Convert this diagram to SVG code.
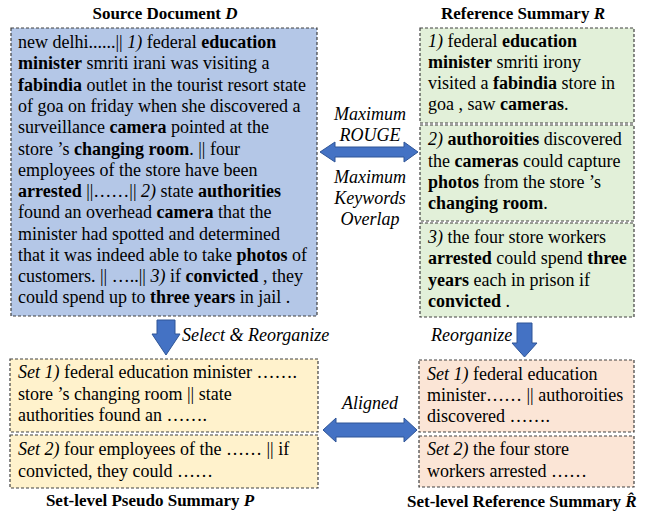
<svg xmlns="http://www.w3.org/2000/svg" width="647" height="518" viewBox="0 0 647 518">
<style>
text{font-size:18px;fill:#000}
.b{font-weight:bold}
.i{font-style:italic}
.t{font-weight:bold;font-size:17px}
.box{stroke:#404040;stroke-width:1.2;stroke-dasharray:3 2}
.blue{fill:#b4c7e7}
.green{fill:#e2f0d9}
.yellow{fill:#fff2cc}
.pink{fill:#fbe5d6}
.arr{fill:#4472c4;stroke:#2f5597;stroke-width:1}
</style>
<rect width="647" height="518" fill="#fff"/>

<g id="source" font-family="Liberation Serif">
<text class="t" x="165" y="19" text-anchor="middle">Source Document <tspan class="i">D</tspan></text>
<rect class="box blue" x="11" y="28" width="306" height="288"/>
<text x="18" y="48">new delhi......|| <tspan class="i">1)</tspan> federal <tspan class="b">education</tspan></text>
<text x="18" y="69"><tspan class="b">minister</tspan> smriti irani was visiting a</text>
<text x="18" y="91"><tspan class="b">fabindia</tspan> outlet in the tourist resort state</text>
<text x="18" y="112">of goa on friday when she discovered a</text>
<text x="18" y="133">surveillance <tspan class="b">camera</tspan> pointed at the</text>
<text x="18" y="155">store ’s <tspan class="b">changing room</tspan>. || four</text>
<text x="18" y="176">employees of the store have been</text>
<text x="18" y="197"><tspan class="b">arrested</tspan> ||……|| <tspan class="i">2)</tspan> state <tspan class="b">authorities</tspan></text>
<text x="18" y="218">found an overhead <tspan class="b">camera</tspan> that the</text>
<text x="18" y="240">minister had spotted and determined</text>
<text x="18" y="261">that it was indeed able to take <tspan class="b">photos</tspan> of</text>
<text x="18" y="282">customers. || …..|| <tspan class="i">3)</tspan> if <tspan class="b">convicted</tspan> , they</text>
<text x="18" y="303">could spend up to <tspan class="b">three years</tspan> in jail .</text>
</g>

<g id="reference" font-family="Liberation Serif">
<text class="t" x="523" y="19" text-anchor="middle">Reference Summary <tspan class="i">R</tspan></text>
<rect class="box green" x="420" y="28" width="214" height="95"/>
<text x="428" y="47"><tspan class="i">1)</tspan> federal <tspan class="b">education</tspan></text>
<text x="428" y="68"><tspan class="b">minister</tspan> smriti irony</text>
<text x="428" y="89">visited a <tspan class="b">fabindia</tspan> store in</text>
<text x="428" y="110">goa , saw <tspan class="b">cameras</tspan>.</text>
<rect class="box green" x="420" y="125" width="214" height="96"/>
<text x="428" y="145"><tspan class="i">2)</tspan> <tspan class="b">authoroities</tspan> discovered</text>
<text x="428" y="167">the <tspan class="b">cameras</tspan> could capture</text>
<text x="428" y="188"><tspan class="b">photos</tspan> from the store ’s</text>
<text x="428" y="209"><tspan class="b">changing room</tspan>.</text>
<rect class="box green" x="420" y="223" width="214" height="94"/>
<text x="428" y="243"><tspan class="i">3)</tspan> the four store workers</text>
<text x="428" y="264"><tspan class="b">arrested</tspan> could spend <tspan class="b">three</tspan></text>
<text x="428" y="286"><tspan class="b">years</tspan> each in prison if</text>
<text x="428" y="307"><tspan class="b">convicted</tspan> .</text>
</g>

<g id="pseudo" font-family="Liberation Serif">
<rect class="box yellow" x="10" y="359" width="308" height="73"/>
<text x="18" y="378"><tspan class="i">Set 1)</tspan> federal education minister …….</text>
<text x="18" y="400">store ’s changing room || state</text>
<text x="18" y="421">authorities found an …….</text>
<rect class="box yellow" x="10" y="435" width="308" height="53"/>
<text x="18" y="455"><tspan class="i">Set 2)</tspan> four employees of the …… || if</text>
<text x="18" y="477">convicted, they could ……</text>
<text class="t" x="150" y="506" text-anchor="middle">Set-level Pseudo Summary <tspan class="i">P</tspan></text>
</g>

<g id="setref" font-family="Liberation Serif">
<rect class="box pink" x="419" y="360" width="215" height="72"/>
<text x="427" y="380"><tspan class="i">Set 1)</tspan> federal education</text>
<text x="427" y="401">minister…… || authoroities</text>
<text x="427" y="422">discovered …….</text>
<rect class="box pink" x="419" y="436" width="215" height="51"/>
<text x="427" y="455"><tspan class="i">Set 2)</tspan> the four store</text>
<text x="427" y="477">workers arrested ……</text>
<text class="t" x="407" y="507">Set-level Reference Summary <tspan class="i">R̂</tspan></text>
</g>

<g id="connectors" font-family="Liberation Serif">
<path class="arr" d="M320,152 L335,142 L335,147 L404,147 L404,142 L418,152 L404,162 L404,157 L335,157 L335,162 Z"/>
<text class="i" x="370" y="120" text-anchor="middle">Maximum</text>
<text class="i" x="370" y="141" text-anchor="middle">ROUGE</text>
<text class="i" x="370" y="183" text-anchor="middle">Maximum</text>
<text class="i" x="370" y="204" text-anchor="middle">Keywords</text>
<text class="i" x="370" y="225" text-anchor="middle">Overlap</text>

<path class="arr" d="M157,320 L175,320 L175,334 L180,334 L166,355 L152,334 L157,334 Z"/>
<text class="i" x="182" y="341">Select &amp; Reorganize</text>

<path class="arr" d="M517,323 L532,323 L532,343 L537,343 L524.5,357 L512,343 L517,343 Z"/>
<text class="i" x="431" y="341">Reorganize</text>

<path class="arr" d="M323,430 L336,418 L336,423 L404,423 L404,418 L417,430 L404,442 L404,437 L336,437 L336,442 Z"/>
<text class="i" x="370" y="409" text-anchor="middle">Aligned</text>
</g>
</svg>
